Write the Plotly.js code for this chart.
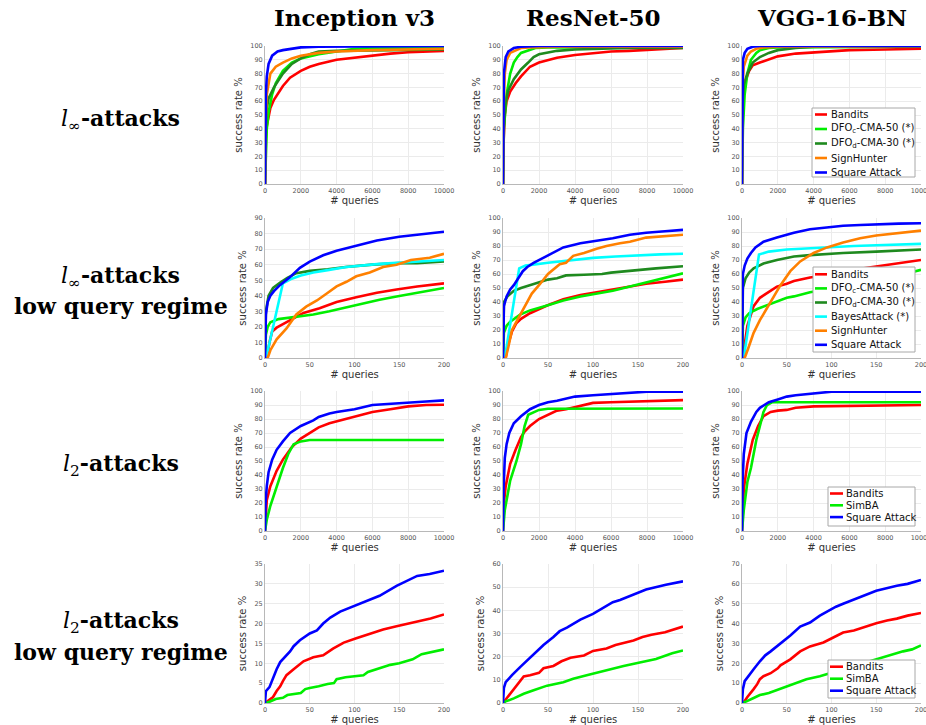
<!DOCTYPE html>
<html><head><meta charset="utf-8">
<script src="https://cdn.plot.ly/plotly-3.0.1.min.js"></script>
<style>html,body{margin:0;padding:0;background:#fff}#chart{width:926px;height:725px}</style>
</head><body><div id="chart"></div>
<script>
// ---------- labels ----------
const models = ['Inception v3', 'ResNet-50', 'VGG-16-BN'];
const methodNames = {
  bandits: 'Bandits', dfoc: 'DFO<sub>c</sub>-CMA-50 (*)', dfod: 'DFO<sub>d</sub>-CMA-30 (*)',
  bayes: 'BayesAttack (*)', sign: 'SignHunter', square: 'Square Attack', simba: 'SimBA'
};
const methodColors = {
  bandits: '#ff0000', dfoc: '#00ee00', dfod: '#1f8a1f', bayes: '#00ffff',
  sign: '#ff8000', square: '#0000ff', simba: '#00ee00'
};
const linfMethods = ['bandits', 'dfoc', 'dfod', 'sign', 'square'];
const linfLowMethods = ['bandits', 'dfoc', 'dfod', 'bayes', 'sign', 'square'];
const l2Methods = ['bandits', 'simba', 'square'];

// ---------- ticks ----------
const xTicksFull = [0, 2000, 4000, 6000, 8000, 10000];
const xTicksLow = [0, 50, 100, 150, 200];
const yTicks100 = [0, 10, 20, 30, 40, 50, 60, 70, 80, 90, 100];
const yTicks90 = [0, 10, 20, 30, 40, 50, 60, 70, 80, 90];
const yTicks35 = [0, 5, 10, 15, 20, 25, 30, 35];
const yTicks60 = [0, 10, 20, 30, 40, 50, 60];
const yTicks70 = [0, 10, 20, 30, 40, 50, 60, 70];

// ---------- data: [queries, success rate %] ----------
// l_inf, full budget
const linf_inc_bandits = [[0,0],[20,20],[50,33],[100,42],[200,50],[300,55],[500,61],[750,66],[1000,71],[1400,77],[2000,82],[2500,85],[3000,87],[4000,90],[5000,91.5],[6000,93.5],[7000,94.5],[8000,95.5],[9000,96],[10000,96.5]];
const linf_inc_dfoc = [[0,0],[30,20],[100,40],[200,52],[400,65],[600,73],[1000,82],[1500,88],[2000,91],[3000,94],[4000,96],[5000,98],[6000,98.5],[10000,98.5]];
const linf_inc_dfod = [[0,0],[20,30],[100,55],[200,62],[500,70],[1000,80],[1500,87],[2000,91],[2500,94],[3000,96],[4000,96.5],[6000,97],[8000,97.5],[10000,97.5]];
const linf_inc_sign = [[0,0],[20,40],[100,65],[300,80],[600,85],[1000,88],[1500,91],[2000,93],[3000,95],[4000,96],[6000,97],[8000,97.5],[10000,98]];
const linf_inc_square = [[0,0],[10,30],[50,65],[100,78],[200,87],[400,93],[700,96],[1000,97],[1500,98],[2000,99],[3000,99.5],[5000,99.8],[10000,100]];

const linf_res_bandits = [[0,0],[30,30],[100,50],[200,60],[400,67],[700,73],[1000,78],[1300,82],[1500,85],[2000,88],[3000,91.5],[4000,93.5],[5000,95],[6000,96],[7000,96.5],[8000,97.2],[9000,97.8],[10000,98.5]];
const linf_res_dfoc = [[0,0],[50,40],[200,65],[400,80],[600,88],[800,92],[1000,95],[1300,96.5],[1800,98.5],[2500,99],[10000,99]];
const linf_res_dfod = [[0,0],[30,40],[150,60],[300,68],[600,76],[1000,83],[1400,88],[1700,92],[2000,94],[3000,96.5],[4000,97.5],[5000,98],[7000,98.5],[10000,98.5]];
const linf_res_sign = [[0,0],[20,50],[100,80],[200,90],[400,95],[700,97],[1000,98.5],[1500,99],[3000,99.5],[10000,99.5]];
const linf_res_square = [[0,0],[10,50],[50,80],[150,92],[300,96],[600,98.5],[1000,99.5],[2000,100],[10000,100]];

const linf_vgg_bandits = [[0,0],[20,40],[80,65],[200,75],[400,82],[600,86],[1000,88],[1500,90],[2000,92.5],[3000,94.5],[4000,95.5],[5000,96.5],[6000,97],[8000,97.5],[10000,98]];
const linf_vgg_dfoc = [[0,0],[50,40],[150,65],[300,80],[500,90],[800,95],[1000,97],[1500,98.5],[2000,99],[10000,99.5]];
const linf_vgg_dfod = [[0,0],[20,55],[100,72],[300,80],[600,88],[1000,92],[1500,95],[2000,97],[3000,98.5],[4000,99.5],[10000,99.5]];
const linf_vgg_sign = [[0,0],[20,70],[100,85],[300,93],[500,96],[800,98],[1200,99],[2000,99.5],[10000,99.8]];
const linf_vgg_square = [[0,0],[10,70],[50,90],[150,95],[300,98],[600,99.5],[1000,100],[10000,100]];

// l_inf, low query regime
const linfLow_inc_bandits = [[0,0],[2,0],[5,10],[8,17],[13,19.5],[28,24],[43,29],[61,32],[80,36],[102,39],[125,42],[147,44],[170,46],[200,48]];
const linfLow_inc_dfoc = [[0,0],[1,15],[3,20],[6,23],[15,25],[35,26.5],[54,28],[72,30],[91,32.5],[110,35],[128,37.5],[147,39.5],[170,42],[200,45]];
const linfLow_inc_dfod = [[0,0],[1,30],[4,40],[9,45],[17,48.5],[25,51.5],[35,54.5],[50,56],[70,57],[90,58.5],[120,60],[150,61],[170,61],[200,62]];
const linfLow_inc_bayes = [[0,0],[2,2],[20,48],[30,51],[40,53],[54,55],[70,56.5],[91,58.5],[128,60.5],[166,62],[200,63]];
const linfLow_inc_sign = [[0,0],[3,0],[6,5],[13,12],[24,19],[35,28],[46,33],[58,37],[69,41.5],[80,46],[91,49],[102,52.5],[117,55],[132,58.5],[147,60],[163,63],[184,64.5],[200,67]];
const linfLow_inc_square = [[0,0],[1,28],[3,36],[6,40],[10,43],[17,47],[28,52],[39,58],[50,62],[65,66],[80,69],[100,72],[125,75.5],[150,78],[175,79.8],[200,81.2]];

const linfLow_res_bandits = [[0,0],[3,0],[5,8],[10,19],[15,25],[20,28],[30,32],[40,35],[49,37.5],[67,42],[86,45],[104,47],[122,49],[141,51],[159,53],[180,54.5],[200,56]];
const linfLow_res_dfoc = [[0,0],[1,18],[4,23],[8,26],[19,31],[30,34],[49,37.5],[67,41],[86,44],[104,46],[122,48],[141,51],[159,54],[181,57.5],[200,60.5]];
const linfLow_res_dfod = [[0,0],[1,40],[5,44],[12,48],[20,50],[30,52],[40,54],[50,56],[60,57],[70,59],[90,59.5],[110,60],[120,61],[135,62],[150,63],[170,64],[200,65.5]];
const linfLow_res_bayes = [[0,0],[2,0],[18,64],[25,66],[50,68],[75,70],[100,71.5],[125,72.5],[150,73.5],[175,74],[200,74.5]];
const linfLow_res_sign = [[0,0],[3,0],[6,8],[10,20],[15,26],[20,32],[25,38],[32,46],[40,52],[50,60],[63,67],[70,68],[78,73],[90,75],[104,78],[115,80],[130,82],[141,83],[159,86],[180,87],[200,88]];
const linfLow_res_square = [[0,0],[1,37],[4,44],[8,49],[12,52],[17,57],[22,62],[27,65],[34,68],[49,73],[67,79],[86,82],[104,83.5],[122,85.5],[141,88],[159,89.5],[180,90.5],[200,91.5]];

const linfLow_vgg_bandits = [[0,0],[2,5],[6,23],[10,31],[13,37],[20,43],[30,47],[39,51],[50,53],[58,55],[76,57.5],[95,59.5],[113,62],[150,65.5],[175,68],[200,70]];
const linfLow_vgg_dfoc = [[0,0],[1,23],[4,29],[8,32],[17,35],[25,37],[39,40],[50,43],[58,44],[76,47],[95,49],[121,52],[150,55.5],[175,59],[200,63]];
const linfLow_vgg_dfod = [[0,0],[1,50],[4,57],[8,61],[13,64],[24,67.5],[39,70],[58,72.5],[76,73.5],[95,74],[113,75],[150,76],[200,77.5]];
const linfLow_vgg_bayes = [[0,0],[2,0],[19,74],[30,76],[50,77.5],[75,78.5],[100,79.5],[125,80],[150,80.5],[175,81],[200,81.5]];
const linfLow_vgg_sign = [[0,0],[3,0],[7,7],[13,18],[20,27],[32,40],[43,52],[54,62],[65,69],[80,75],[95,79],[113,82.5],[132,85.5],[150,87.5],[175,89.5],[200,91]];
const linfLow_vgg_square = [[0,0],[1,60],[3,66],[6,71],[10,75],[15,79],[24,83],[30,84],[39,86],[50,88],[58,89.5],[76,92],[95,93.5],[113,94.5],[132,95],[150,95.5],[175,96],[200,96.3]];

// l_2, full budget
const l2_inc_bandits = [[0,0],[50,15],[100,22],[300,32],[650,43],[1000,51],[1500,60],[2000,66],[2500,70],[3000,74],[3600,77],[4500,80],[5500,83],[6000,85],[7000,87],[8000,89],[9000,90],[10000,90.2]];
const l2_inc_simba = [[0,0],[100,8],[300,18],[650,32],[1000,45],[1300,55],[1600,62],[2000,64],[2500,65],[10000,65]];
const l2_inc_square = [[0,0],[30,20],[100,32],[200,42],[400,51],[650,58],[1000,64],[1400,70],[2000,75],[2700,79],[3000,81.5],[3600,84],[4000,85],[5000,87],[6000,90],[7000,91],[8000,92],[9000,92.5],[10000,93.3]];

const l2_res_bandits = [[0,0],[50,20],[150,32],[400,48],[700,58],[1000,67],[1200,71],[1500,75],[2000,80],[2500,83],[3000,86],[3500,87],[4000,88.5],[4500,90.5],[5000,91.5],[6000,92],[8000,93],[10000,93.5]];
const l2_res_simba = [[0,0],[100,15],[400,36],[750,50],[1000,62],[1200,75],[1400,83],[1700,85],[2000,86.5],[2500,87.3],[10000,87.5]];
const l2_res_square = [[0,0],[30,30],[100,52],[200,62],[350,70],[600,77],[1000,82],[1500,87],[2000,90],[2500,92],[3000,93],[4000,96],[5000,97],[6000,98],[7000,99],[8000,99.5],[10000,99.5]];

const l2_vgg_bandits = [[0,0],[50,20],[100,30],[300,48],[600,65],[900,75],[1200,82],[1600,85],[2000,86],[2500,86.5],[3000,88],[4000,89],[6000,89.5],[10000,90]];
const l2_vgg_simba = [[0,0],[100,15],[300,35],[500,45],[800,65],[1000,76],[1200,85],[1400,90],[1700,92],[10000,92]];
const l2_vgg_square = [[0,0],[30,35],[100,55],[250,70],[500,78],[800,85],[1000,88],[1500,92],[2000,94],[2500,96],[3000,97],[4000,98.5],[5000,99.5],[10000,99.5]];

// l_2, low query regime
const l2Low_inc_bandits = [[0,0],[3,0.5],[9,1.5],[13,3],[17,4.2],[20,5.5],[24,7],[32,8.5],[43,10.5],[54,11.5],[65,12],[76,13.7],[88,15.2],[102,16.3],[117,17.3],[132,18.5],[147,19.3],[170,20.5],[185,21.3],[200,22.3]];
const l2Low_inc_simba = [[0,0],[5,0.3],[12,1],[20,1.3],[25,2],[30,2.2],[40,2.5],[45,3.5],[50,3.8],[60,4.2],[70,4.8],[77,5],[80,6],[90,6.5],[100,6.8],[110,7],[115,7.8],[125,8.5],[140,9.6],[150,10],[165,11],[175,12.3],[190,13],[200,13.5]];
const l2Low_inc_square = [[0,0],[1,3],[5,4],[9,6.5],[13,8.5],[17,10.3],[22,11.5],[28,13],[32,14.3],[39,15.8],[50,17.5],[58,18.3],[65,20],[73,21.5],[84,23],[95,24],[110,25.2],[128,27],[147,29.5],[160,31],[170,32],[184,32.5],[200,33.3]];

const l2Low_res_bandits = [[0,0],[2,1],[5,2.5],[8,4],[12,6],[16,8],[20,9.5],[23,11.5],[30,12],[40,13],[45,15],[56,16],[65,18],[75,19.5],[90,20.5],[100,22.5],[115,23.5],[125,25],[135,26],[145,27],[155,28.5],[165,29.5],[180,30.5],[200,33]];
const l2Low_res_simba = [[0,0],[3,0.7],[12,2],[23,4],[34,5.5],[49,7.5],[67,9],[78,10.5],[93,12],[115,14.2],[134,16],[152,17.5],[170,19],[188,21.5],[200,22.7]];
const l2Low_res_square = [[0,0],[1,6.5],[3,9],[6,10.5],[10,12],[19,15.5],[27,18.5],[34,21],[40,23],[45,25],[56,28.5],[63,31],[71,32.5],[86,36],[100,38.5],[107,40],[115,42],[122,43.5],[130,44.5],[145,47],[159,49],[181,51],[200,52.5]];

const l2Low_vgg_bandits = [[0,0],[3,1],[6,3],[9,5],[13,7],[17,9.5],[20,12],[24,13.5],[32,15],[40,17.5],[43,19],[54,22],[65,26],[76,28.5],[91,30.5],[102,33],[113,35.5],[125,36.5],[132,37.5],[150,40.2],[162,41.5],[173,42.5],[185,44],[200,45.3]];
const l2Low_vgg_simba = [[0,0],[5,0.8],[13,2.5],[20,4],[30,5],[39,6.5],[48,8],[54,9],[65,10.5],[72,12],[87,13.5],[98,15],[110,16.5],[125,18.5],[140,20.5],[150,22],[165,24],[180,26],[190,27],[200,29]];
const l2Low_vgg_square = [[0,0],[1,7],[3,11],[6,13],[10,15],[13,17],[20,21],[26,24],[32,26],[43,30],[50,33],[54,34],[65,38.5],[76,40.5],[87,44],[98,47],[105,48.5],[113,50],[125,52],[132,53.5],[150,56.5],[173,59],[185,60],[200,62]];

// ---------- panels ----------
const panels = [
  {row:0, col:0, xmax:10000, xt:xTicksFull, ymax:100, yt:yTicks100, methods:linfMethods, data:[linf_inc_bandits, linf_inc_dfoc, linf_inc_dfod, linf_inc_sign, linf_inc_square]},
  {row:0, col:1, xmax:10000, xt:xTicksFull, ymax:100, yt:yTicks100, methods:linfMethods, data:[linf_res_bandits, linf_res_dfoc, linf_res_dfod, linf_res_sign, linf_res_square]},
  {row:0, col:2, xmax:10000, xt:xTicksFull, ymax:100, yt:yTicks100, methods:linfMethods, data:[linf_vgg_bandits, linf_vgg_dfoc, linf_vgg_dfod, linf_vgg_sign, linf_vgg_square]},
  {row:1, col:0, xmax:200, xt:xTicksLow, ymax:90, yt:yTicks90, methods:linfLowMethods, data:[linfLow_inc_bandits, linfLow_inc_dfoc, linfLow_inc_dfod, linfLow_inc_bayes, linfLow_inc_sign, linfLow_inc_square]},
  {row:1, col:1, xmax:200, xt:xTicksLow, ymax:100, yt:yTicks100, methods:linfLowMethods, data:[linfLow_res_bandits, linfLow_res_dfoc, linfLow_res_dfod, linfLow_res_bayes, linfLow_res_sign, linfLow_res_square]},
  {row:1, col:2, xmax:200, xt:xTicksLow, ymax:100, yt:yTicks100, methods:linfLowMethods, data:[linfLow_vgg_bandits, linfLow_vgg_dfoc, linfLow_vgg_dfod, linfLow_vgg_bayes, linfLow_vgg_sign, linfLow_vgg_square]},
  {row:2, col:0, xmax:10000, xt:xTicksFull, ymax:100, yt:yTicks100, methods:l2Methods, data:[l2_inc_bandits, l2_inc_simba, l2_inc_square]},
  {row:2, col:1, xmax:10000, xt:xTicksFull, ymax:100, yt:yTicks100, methods:l2Methods, data:[l2_res_bandits, l2_res_simba, l2_res_square]},
  {row:2, col:2, xmax:10000, xt:xTicksFull, ymax:100, yt:yTicks100, methods:l2Methods, data:[l2_vgg_bandits, l2_vgg_simba, l2_vgg_square]},
  {row:3, col:0, xmax:200, xt:xTicksLow, ymax:35, yt:yTicks35, methods:l2Methods, data:[l2Low_inc_bandits, l2Low_inc_simba, l2Low_inc_square]},
  {row:3, col:1, xmax:200, xt:xTicksLow, ymax:60, yt:yTicks60, methods:l2Methods, data:[l2Low_res_bandits, l2Low_res_simba, l2Low_res_square]},
  {row:3, col:2, xmax:200, xt:xTicksLow, ymax:70, yt:yTicks70, methods:l2Methods, data:[l2Low_vgg_bandits, l2Low_vgg_simba, l2Low_vgg_square]}
];

// ---------- layout geometry (pixels) ----------
const W = 926, H = 725;
const px = x => x / W;
const py = y => 1 - y / H;
const colPix = [[265, 444], [503, 683], [742, 921]];
const rowPix = [[46, 184], [218, 358], [391, 531], [564, 703]];

const SANS = 'DejaVu Sans';
const SERIF = 'DejaVu Serif';

const traces = [];
const layout = {
  width: W, height: H,
  margin: {l: 0, r: 0, t: 0, b: 0},
  paper_bgcolor: '#ffffff', plot_bgcolor: '#ffffff',
  showlegend: false,
  font: {family: SANS, color: '#333'},
  annotations: [], shapes: []
};

panels.forEach((p, i) => {
  const n = i + 1;
  const xa = n === 1 ? 'x' : 'x' + n;
  const ya = n === 1 ? 'y' : 'y' + n;
  p.data.forEach((d, k) => {
    const m = p.methods[k];
    traces.push({
      type: 'scatter', mode: 'lines',
      x: d.map(v => v[0]), y: d.map(v => v[1]),
      name: methodNames[m],
      line: {color: methodColors[m], width: 2.6},
      xaxis: xa, yaxis: ya, hoverinfo: 'skip'
    });
  });
  const common = {
    showgrid: true, gridcolor: '#ebebeb', gridwidth: 1, zeroline: false,
    showline: true, linecolor: '#b8b8b8', linewidth: 1, ticks: '',
    tickfont: {family: SANS, size: 6.5, color: '#555'}, fixedrange: true,
    ticklabeloverflow: 'allow'
  };
  layout['xaxis' + (n === 1 ? '' : n)] = Object.assign({}, common, {
    domain: [px(colPix[p.col][0]), px(colPix[p.col][1])],
    anchor: ya, range: [0, p.xmax], tickvals: p.xt, ticktext: p.xt.map(String),
    title: {text: '# queries', font: {family: SANS, size: 10, color: '#333'}, standoff: 2}
  });
  layout['yaxis' + (n === 1 ? '' : n)] = Object.assign({}, common, {
    domain: [py(rowPix[p.row][1]), py(rowPix[p.row][0])],
    anchor: xa, range: [0, p.ymax], tickvals: p.yt, ticktext: p.yt.map(String),
    title: {text: 'success rate %', font: {family: SANS, size: 10, color: '#333'}, standoff: 5}
  });
});

// column titles
models.forEach((m, c) => {
  layout.annotations.push({
    text: '<b>' + m + '</b>', xref: 'paper', yref: 'paper',
    x: px((colPix[c][0] + colPix[c][1]) / 2), y: py(18),
    xanchor: 'center', yanchor: 'middle', showarrow: false,
    font: {family: SERIF, size: 23, color: '#000'}
  });
});

// row labels
const rowLabelLines = [
  [['<i>l</i><sub>∞</sub><b>-attacks</b>', 120]],
  [['<i>l</i><sub>∞</sub><b>-attacks</b>', 277], ['<b>low query regime</b>', 306]],
  [['<i>l</i><sub>2</sub><b>-attacks</b>', 465]],
  [['<i>l</i><sub>2</sub><b>-attacks</b>', 622], ['<b>low query regime</b>', 652]]
];
rowLabelLines.forEach(lines => lines.forEach(([t, y]) => {
  layout.annotations.push({
    text: t, xref: 'paper', yref: 'paper', x: px(121), y: py(y),
    xanchor: 'center', yanchor: 'middle', showarrow: false,
    font: {family: SERIF, size: 22, color: '#000'}
  });
}));

// legends (drawn as key boxes in the right column)
const legends = [
  {methods: linfMethods, box: [812, 108, 915, 177], y0: 114.5, step: 14.5, lx: [815, 827], tx: 829},
  {methods: linfLowMethods, box: [813, 267, 915, 352], y0: 274.3, step: 14.1, lx: [815, 827], tx: 829},
  {methods: l2Methods, box: [828, 487, 915, 526], y0: 493.5, step: 11.8, lx: [830, 843], tx: 844},
  {methods: l2Methods, box: [828, 660, 915, 698], y0: 666.7, step: 12, lx: [830, 843], tx: 844}
];
legends.forEach(L => {
  layout.shapes.push({
    type: 'rect', xref: 'paper', yref: 'paper',
    x0: px(L.box[0]), x1: px(L.box[2]), y0: py(L.box[3]), y1: py(L.box[1]),
    fillcolor: '#ffffff', line: {color: '#a8a8a8', width: 1}, layer: 'above'
  });
  L.methods.forEach((m, k) => {
    const yy = L.y0 + k * L.step;
    layout.shapes.push({
      type: 'line', xref: 'paper', yref: 'paper',
      x0: px(L.lx[0]), x1: px(L.lx[1]), y0: py(yy), y1: py(yy),
      line: {color: methodColors[m], width: 2.6}, layer: 'above'
    });
    layout.annotations.push({
      text: methodNames[m], xref: 'paper', yref: 'paper', x: px(L.tx), y: py(yy),
      xanchor: 'left', yanchor: 'middle', showarrow: false,
      font: {family: SANS, size: 10, color: '#111'}
    });
  });
});

Plotly.newPlot('chart', traces, layout, {displayModeBar: false, staticPlot: true});
</script>
</body></html>
